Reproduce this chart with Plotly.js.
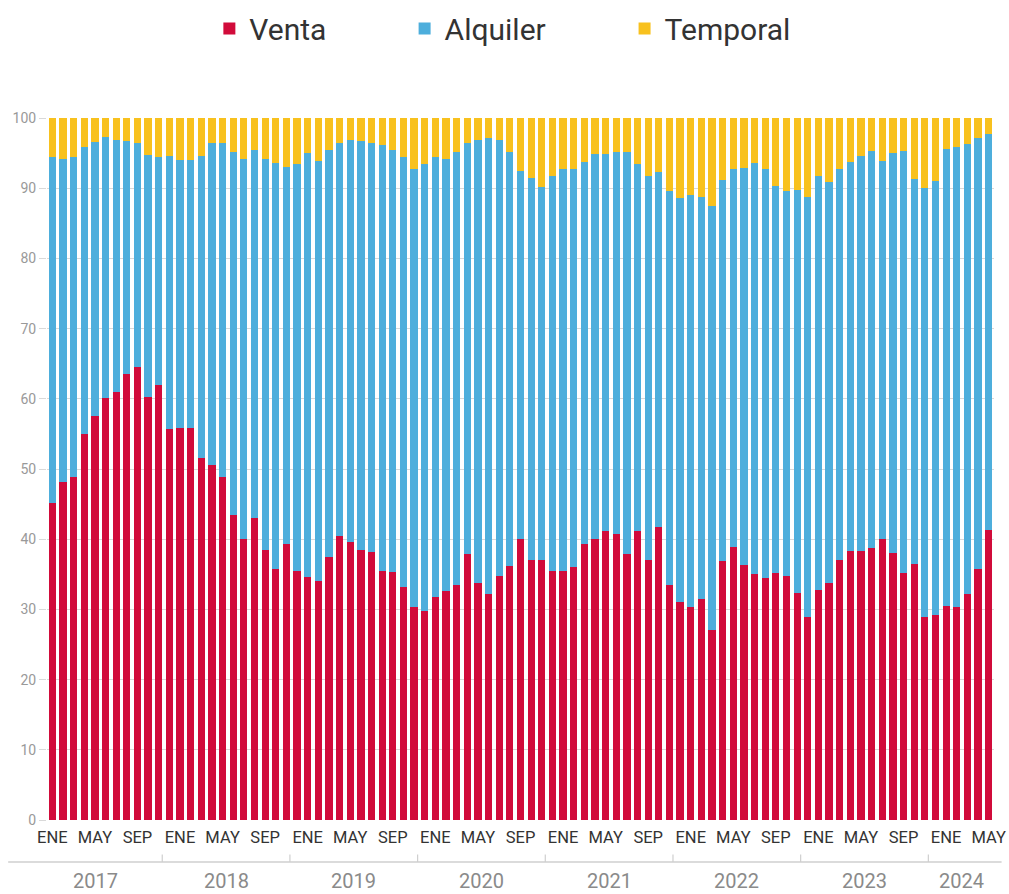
<!DOCTYPE html>
<html>
<head>
<meta charset="utf-8">
<script src="https://cdn.plot.ly/plotly-3.0.1.min.js"></script>
<style>
html,body{margin:0;padding:0;background:#fff;}
#chart{width:1009px;height:894px;}
</style>
</head>
<body>
<div id="chart"></div>
<script>
// ---- Data ----
const years = ['2017','2018','2019','2020','2021','2022','2023','2024'];
const monthAbbr = ['ENE','FEB','MAR','ABR','MAY','JUN','JUL','AGO','SEP','OCT','NOV','DIC'];
const labeledMonths = ['ENE','MAY','SEP'];

const venta = [
  45.1,48.2,48.9,55.0,57.5,60.1,60.9,63.5,64.5,60.3,62.0,55.7,
  55.9,55.9,51.6,50.6,48.9,43.5,40.0,43.0,38.4,35.7,39.3,35.5,
  34.6,34.1,37.5,40.4,39.6,38.4,38.2,35.5,35.3,33.2,30.4,29.8,
  31.8,32.6,33.5,37.9,33.7,32.2,34.7,36.2,40.1,37.1,37.1,35.5,
  35.5,36.0,39.3,40.0,41.2,40.7,37.9,41.2,37.0,41.8,33.5,31.1,
  30.3,31.5,27.1,36.9,38.9,36.3,35.1,34.5,35.2,34.7,32.4,28.9,
  32.8,33.8,37.1,38.3,38.3,38.7,40.1,38.0,35.2,36.5,28.9,29.2,
  30.5,30.4,32.2,35.7,41.3
];
const alquiler = [
  49.3,45.9,45.5,40.9,39.1,37.2,36.0,33.2,31.9,34.5,32.5,38.9,
  38.1,38.1,43.0,45.8,47.5,51.7,54.2,52.5,55.8,57.9,53.7,58.0,
  60.4,59.8,58.0,56.1,57.3,58.3,58.2,60.7,60.1,61.2,62.3,63.7,
  62.7,61.6,61.7,58.5,63.2,64.9,62.2,59.0,52.4,54.4,53.1,56.3,
  57.2,56.7,54.4,54.9,53.7,54.5,57.3,52.3,54.8,50.5,56.1,57.5,
  58.8,57.3,60.3,54.2,53.8,56.6,58.5,58.2,55.1,54.9,57.3,59.9,
  59.0,57.1,55.6,55.4,56.3,56.6,53.8,57.0,60.1,54.8,61.1,61.8,
  65.1,65.5,64.1,61.5,56.4
];
const temporal = [
  5.6,5.9,5.6,4.1,3.4,2.7,3.1,3.3,3.6,5.2,5.5,5.4,
  6.0,6.0,5.4,3.6,3.6,4.8,5.8,4.5,5.8,6.4,7.0,6.5,
  5.0,6.1,4.5,3.5,3.1,3.3,3.6,3.8,4.6,5.6,7.3,6.5,
  5.5,5.8,4.8,3.6,3.1,2.9,3.1,4.8,7.5,8.5,9.8,8.2,
  7.3,7.3,6.3,5.1,5.1,4.8,4.8,6.5,8.2,7.7,10.4,11.4,
  10.9,11.2,12.6,8.9,7.3,7.1,6.4,7.3,9.7,10.4,10.3,11.2,
  8.2,9.1,7.3,6.3,5.4,4.7,6.1,5.0,4.7,8.7,10.0,9.0,
  4.4,4.1,3.7,2.8,2.3
];

// category keys (one per month, Jan 2017 .. May 2024)
const categories = [];
const monthOf = [];
years.forEach(y => monthAbbr.forEach((m, mi) => {
  if (categories.length < venta.length) { categories.push(m + ' ' + y); monthOf.push(m); }
}));
const tickVals = categories.filter((c, i) => labeledMonths.includes(monthOf[i]));
const tickText = tickVals.map(c => c.split(' ')[0]);

// ---- Styles ----
const colVenta = '#D10B3A', colAlq = '#4DAEDC', colTemp = '#F8C11E';
const FONT = 'Roboto, "Liberation Sans", sans-serif';

const traces = [
  {type:'bar', name:'Venta', x:categories, y:venta, marker:{color:colVenta}, legend:'legend', hoverinfo:'x+y+name'},
  {type:'bar', name:'Alquiler', x:categories, y:alquiler, marker:{color:colAlq}, legend:'legend2', hoverinfo:'x+y+name'},
  {type:'bar', name:'Temporal', x:categories, y:temporal, marker:{color:colTemp}, legend:'legend3', hoverinfo:'x+y+name'}
];

// year separator ticks & labels (year axis drawn below month labels)
const n = venta.length;
const yearOffset = 1.67;
const bounds = [-2.2];
for (let k = 1; k < years.length; k++) bounds.push(12 * k - yearOffset);
bounds.push(n - 0.5);

const shapes = [{
  type:'line', xref:'paper', yref:'paper', x0:-0.041, x1:1.008, y0:-0.0598, y1:-0.0598,
  line:{color:'#cfcfcf', width:1.5}
}];
for (let k = 1; k < years.length; k++) {
  shapes.push({type:'line', xref:'x', yref:'paper', x0:bounds[k], x1:bounds[k], y0:-0.0598, y1:-0.049,
    line:{color:'#cfcfcf', width:1.2}});
}
const annotations = years.map((y, k) => ({
  text:y, xref:'x', yref:'paper', x:(bounds[k] + bounds[k+1]) / 2, y:-0.0865,
  xanchor:'center', yanchor:'middle', showarrow:false,
  font:{family:FONT, size:20, color:'#8a8a8a'}
}));

const legendBase = {orientation:'h', xref:'container', yref:'container', y:0.968, yanchor:'middle', xanchor:'left',
  font:{family:FONT, size:30, color:'#333'}, bgcolor:'rgba(0,0,0,0)', itemwidth:30};

const layout = {
  width:1009, height:894,
  margin:{l:47, r:15, t:118, b:74},
  paper_bgcolor:'#fff', plot_bgcolor:'#fff',
  barmode:'stack', bargap:0.32,
  font:{family:FONT},
  showlegend:true,
  legend:Object.assign({}, legendBase, {x:0.2075}),
  legend2:Object.assign({}, legendBase, {x:0.401}),
  legend3:Object.assign({}, legendBase, {x:0.619}),
  xaxis:{type:'category', tickmode:'array', tickvals:tickVals, ticktext:tickText,
    ticks:'', showgrid:false, zeroline:false, showline:false, ticklabelstandoff:5,
    tickfont:{family:FONT, size:16.5, color:'#333'}, range:[-0.5, n - 0.5]},
  yaxis:{range:[0,100], dtick:10, tick0:0, showgrid:true, gridcolor:'#d9d9d9', gridwidth:1,
    ticks:'outside', ticklen:7, tickcolor:'#d9d9d9', zeroline:false, showline:false,
    tickfont:{family:FONT, size:14, color:'#999'}},
  shapes:shapes,
  annotations:annotations
};

Plotly.newPlot('chart', traces, layout, {displayModeBar:false, staticPlot:true});
</script>
</body>
</html>
